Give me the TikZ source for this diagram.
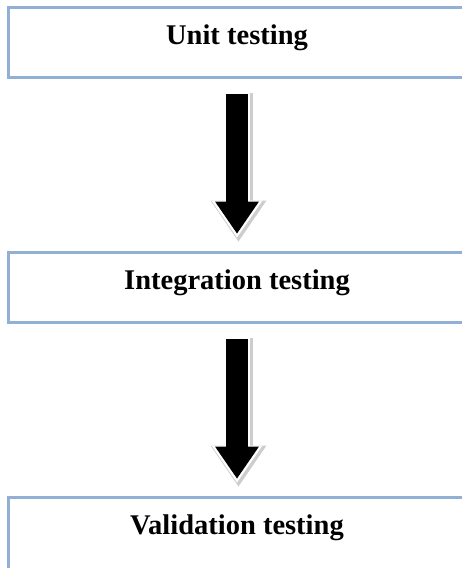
\documentclass[tikz,border=0pt]{standalone}
\usepackage{fontspec}
\setmainfont{Liberation Serif}
\usetikzlibrary{arrows.meta,positioning}
\definecolor{boxblue}{RGB}{146,176,214}
\definecolor{rimgray}{RGB}{205,205,205}

\begin{document}
\begin{tikzpicture}[x=1pt,y=-1pt,
  stage/.style={draw=boxblue, line width=3pt, minimum width=458pt, inner sep=0pt,
    text height=37pt, text depth=33pt, font=\fontsize{28.5}{32}\selectfont\bfseries},
  flow/.style={line width=22pt, -{Triangle[width=44pt,length=32pt,line width=0pt]},
    shorten <=15pt, shorten >=17pt},
  flowrim/.style={flow, rimgray, line width=28pt,
    -{Triangle[width=56pt,length=41pt,line width=0pt]},
    shorten <=13pt, shorten >=10pt, transform canvas={xshift=1.5pt,yshift=-1pt}},
  flowgap/.style={flow, white, line width=25pt,
    -{Triangle[width=51pt,length=37pt,line width=0pt]},
    shorten <=13.5pt, shorten >=13pt},
  ]
\useasboundingbox (0,0) rectangle (462,568);

\node[stage] (unit) at (237,42) {Unit testing};
\node[stage, below=172pt of unit] (integ) {Integration testing};
\node[stage, below=172pt of integ, text depth=40pt] (valid) {Validation testing};

\draw[flowrim] (unit) -- (integ);
\draw[flowgap] (unit) -- (integ);
\draw[flow] (unit) -- (integ);

\draw[flowrim] (integ) -- (valid);
\draw[flowgap] (integ) -- (valid);
\draw[flow] (integ) -- (valid);

\end{tikzpicture}
\end{document}
